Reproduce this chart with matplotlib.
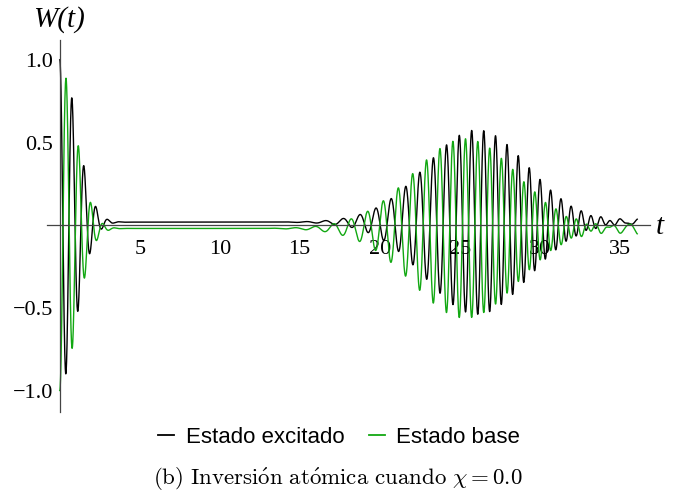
import math
import numpy as np
import matplotlib
matplotlib.use("Agg")
import matplotlib.pyplot as plt
from matplotlib.lines import Line2D

# ---- chart parameters ----
mean_photons = 16.0      # revival near t ~ 25-26, initial period ~0.8
coupling = 1.0
detuning = 1.1           # small offsets of the curves in the collapse region
chi = 0.0
t_end = 36.1
series_labels = ["Estado excitado", "Estado base"]
series_colors = ["#000000", "#12a812"]
x_ticks = [5, 10, 15, 20, 25, 30, 35]
y_ticks = [-1.0, -0.5, 0.5, 1.0]
y_tick_labels = ["\u22121.0", "\u22120.5", "0.5", "1.0"]
caption = r"$\mathrm{(b)\ Inversi\acute{o}n\ at\acute{o}mica\ cuando}\ \chi = 0.0$"

# ---- atomic inversion (Jaynes-Cummings, coherent field) ----
t = np.linspace(0.0, t_end, 8000)
n = np.arange(0, 90)
logP = -mean_photons + n * math.log(mean_photons) - np.array([math.lgamma(k + 1) for k in n])
P = np.exp(logP)

def inversion(excited):
    m = n + 1 if excited else n
    omega2 = detuning**2 + 4 * coupling**2 * m
    omega = np.sqrt(omega2)
    terms = (detuning**2 + 4 * coupling**2 * m * np.cos(np.outer(t, omega))) / omega2
    w = terms @ P
    return w if excited else -w

W_exc = inversion(True)
W_gnd = inversion(False)

# ---- figure ----
fig = plt.figure(figsize=(6.89, 4.94), dpi=100)
ax = fig.add_axes([47 / 689, 82 / 494, 603 / 689, 372 / 494])
ax.plot(t, W_exc, color=series_colors[0], lw=1.0)
ax.plot(t, W_gnd, color=series_colors[1], lw=1.0)

ax.set_xlim(-0.8, 36.9)
ax.set_ylim(-1.13, 1.12)
for s in ["top", "right"]:
    ax.spines[s].set_visible(False)
ax.spines["left"].set_position(("data", 0))
ax.spines["bottom"].set_position(("data", 0))
for s in ["left", "bottom"]:
    ax.spines[s].set_color("#444444")
    ax.spines[s].set_linewidth(0.9)
ax.set_xticks(x_ticks)
ax.set_xticklabels([str(v) for v in x_ticks])
ax.set_yticks(y_ticks)
ax.set_yticklabels(y_tick_labels)
ax.tick_params(length=0)
ax.tick_params(axis="x", pad=11)
ax.tick_params(axis="y", pad=5)
for lab in ax.get_xticklabels() + ax.get_yticklabels():
    lab.set_fontfamily("Liberation Serif")
    lab.set_fontsize(16)

fig.text(59 / 689, 1 - 20 / 494, "W(t)", family="Liberation Serif", style="italic",
         fontsize=21, ha="center", va="center")
fig.text(660 / 689, 1 - 227 / 494, "t", family="Liberation Serif", style="italic",
         fontsize=21, ha="center", va="center")

handles = [Line2D([], [], color=c, lw=1.3) for c in series_colors]
fig.legend(handles, series_labels, loc="center", bbox_to_anchor=(339 / 689, 1 - 437 / 494),
           ncol=2, frameon=False, handlelength=0.75, handletextpad=0.5, columnspacing=1.1,
           prop={"family": "Liberation Sans", "size": 16})

fig.text(338 / 689, 1 - 479 / 494, caption, math_fontfamily="cm", fontsize=16.5,
         ha="center", va="center")

fig.savefig("out.png", dpi=100)
